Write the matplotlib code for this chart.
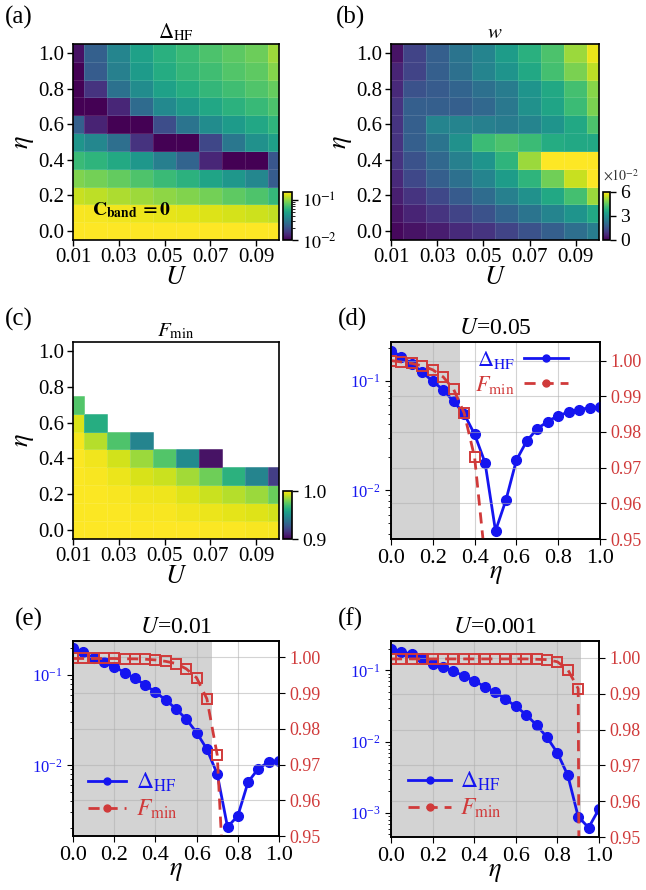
import numpy as np
import matplotlib
matplotlib.use("Agg")
import matplotlib.pyplot as plt
from matplotlib.colors import LogNorm, Normalize
from matplotlib.lines import Line2D
from matplotlib.ticker import FixedLocator

plt.rcParams["font.family"] = ["Liberation Serif", "DejaVu Serif"]
plt.rcParams["mathtext.fontset"] = "stix"

W, H = 646, 890
BLUE = "#1515f0"
RED = "#d03a3a"

# ---- heatmap grid ----
U_grid = [0.01, 0.02, 0.03, 0.04, 0.05, 0.06, 0.07, 0.08, 0.09, 0.10]
eta_grid = [0.0, 0.1, 0.2, 0.3, 0.4, 0.5, 0.6, 0.7, 0.8, 0.9, 1.0]

# Delta_HF, rows eta = 0.0 ... 1.0
delta_map = [
    [0.1995, 0.195, 0.193, 0.191, 0.189, 0.186, 0.182, 0.178, 0.173, 0.168],
    [0.154, 0.152, 0.149, 0.146, 0.143, 0.140, 0.136, 0.132, 0.128, 0.122],
    [0.125, 0.120, 0.112, 0.105, 0.0986, 0.094, 0.088, 0.080, 0.073, 0.063],
    [0.0926, 0.088, 0.081, 0.073, 0.0648, 0.058, 0.050, 0.043, 0.036, 0.022],
    [0.0648, 0.060, 0.053, 0.043, 0.0325, 0.024, 0.0135, 0.006, 0.007, 0.021],
    [0.0423, 0.036, 0.027, 0.015, 0.0043, 0.006, 0.018, 0.030, 0.040, 0.047],
    [0.0231, 0.013, 0.006, 0.007, 0.0189, 0.029, 0.038, 0.045, 0.052, 0.060],
    [0.0080, 0.007, 0.0135, 0.026, 0.0366, 0.044, 0.052, 0.058, 0.064, 0.072],
    [0.0027, 0.015, 0.028, 0.038, 0.0482, 0.055, 0.062, 0.068, 0.074, 0.082],
    [0.0092, 0.022, 0.033, 0.045, 0.0547, 0.062, 0.068, 0.075, 0.080, 0.095],
    [0.0113, 0.023, 0.035, 0.048, 0.0574, 0.065, 0.072, 0.079, 0.085, 0.105],
]

# w in units of 1e-2, rows eta = 0.0 ... 1.0
w_map = [
    [0.12, 0.3, 0.48, 0.72, 0.9, 1.2, 1.5, 1.8, 2.16, 2.52],
    [0.3, 0.6, 0.9, 1.2, 1.5, 1.9, 2.3, 2.7, 3.1, 3.6],
    [0.5, 0.9, 1.3, 1.7, 2.1, 2.6, 3.0, 3.6, 4.2, 5.1],
    [0.7, 1.3, 1.8, 2.2, 2.7, 3.3, 3.9, 4.7, 5.5, 6.0],
    [0.9, 1.5, 2.0, 2.6, 3.1, 3.9, 5.1, 6.1, 6.1, 6.0],
    [0.9, 1.8, 2.3, 3.0, 4.1, 4.3, 4.1, 3.7, 3.6, 3.6],
    [0.9, 1.8, 2.7, 2.7, 2.6, 2.5, 2.7, 3.1, 3.6, 4.3],
    [0.9, 1.8, 1.8, 1.8, 2.0, 2.4, 3.0, 3.5, 4.1, 4.8],
    [0.7, 1.5, 1.7, 1.9, 2.2, 2.5, 3.1, 3.6, 4.2, 4.9],
    [0.6, 1.2, 1.8, 2.2, 2.7, 3.1, 3.6, 4.2, 4.8, 5.4],
    [0.3, 1.2, 1.8, 2.3, 2.7, 3.3, 3.8, 4.3, 5.1, 5.8],
]

nan = np.nan
# F_min, rows eta = 0.0 ... 1.0 (nan = not defined)
fmin_map = [
    [0.9997, 0.9998, 0.9998, 0.9998, 1.0000, 0.9997, 0.9995, 0.9993, 0.9990, 0.9988],
    [0.9996, 0.9995, 0.9995, 0.9990, 0.9992, 0.9980, 0.9970, 0.9960, 0.9950, 0.9930],
    [0.9996, 0.9993, 0.9990, 0.9980, 0.9974, 0.9950, 0.9920, 0.9890, 0.9850, 0.9770],
    [0.9995, 0.9990, 0.9970, 0.9940, 0.9919, 0.9860, 0.9780, 0.9640, 0.9450, 0.9180],
    [0.9993, 0.9980, 0.9930, 0.9850, 0.9729, 0.9480, 0.9050, nan, nan, nan],
    [0.9983, 0.9890, 0.9720, 0.9450, nan, nan, nan, nan, nan, nan],
    [0.9943, 0.9620, nan, nan, nan, nan, nan, nan, nan, nan],
    [0.9727, nan, nan, nan, nan, nan, nan, nan, nan, nan],
    [nan, nan, nan, nan, nan, nan, nan, nan, nan, nan],
    [nan, nan, nan, nan, nan, nan, nan, nan, nan, nan],
    [nan, nan, nan, nan, nan, nan, nan, nan, nan, nan],
]

# ---- line cuts ----
eta_line = [0.0, 0.05, 0.1, 0.15, 0.2, 0.25, 0.3, 0.35, 0.4, 0.45, 0.5,
            0.55, 0.6, 0.65, 0.7, 0.75, 0.8, 0.85, 0.9, 0.95, 1.0]

delta_u005 = [0.189, 0.166, 0.143, 0.120, 0.0986, 0.0827, 0.0648, 0.0499, 0.0325, 0.0179,
              0.00427, 0.00816, 0.0189, 0.0283, 0.0366, 0.0425, 0.0482, 0.0517, 0.0547,
              0.0567, 0.0574]
fmin_u005 = [1.0000, 0.9996, 0.9992, 0.9985, 0.9974, 0.9954, 0.9919, 0.9853, 0.9729, 0.9443]

delta_u001 = [0.1995, 0.180, 0.154, 0.139, 0.125, 0.107, 0.0926, 0.0781, 0.0648, 0.0532,
              0.0423, 0.0325, 0.0231, 0.0151, 0.00801, 0.00207, 0.00274, 0.00653, 0.00919,
              0.0109, 0.0113]
fmin_u001 = [0.9997, 0.9997, 0.9997, 0.9997, 0.9997, 0.9996, 0.9996, 0.9995, 0.9993, 0.9989,
             0.9983, 0.9968, 0.9943, 0.9884, 0.9727, 0.917]

delta_u0001 = [0.199, 0.183, 0.167, 0.149, 0.124, 0.110, 0.0968, 0.0842, 0.0716, 0.0590,
               0.0497, 0.0396, 0.0313, 0.0239, 0.0170, 0.0115, 0.00694, 0.00337, 0.000888,
               0.000622, 0.00114]
fmin_u0001 = [0.9997, 0.9997, 0.9997, 0.9997, 0.9997, 0.9997, 0.9997, 0.9997, 0.9997, 0.9997,
              0.9997, 0.9997, 0.9997, 0.9997, 0.9996, 0.9995, 0.9989, 0.9967, 0.9914, 0.30]

# extent of the C_band = 0 region (grey) for each cut
shade_u005 = 0.328
shade_u001 = 0.675
shade_u0001 = 0.915


def px_axes(fig, left, top, right, bottom):
    return fig.add_axes([left / W, 1 - bottom / H, (right - left) / W, (bottom - top) / H])


def heatmap(fig, ax, cax, data, norm, title):
    z = np.ma.masked_invalid(np.array(data, dtype=float))
    m = ax.pcolormesh(U_grid, eta_grid, z, cmap="viridis", norm=norm, shading="nearest",
                      edgecolors=(1, 1, 1, 0.12), linewidth=0.4)
    ax.set_xlim(0.01, 0.1)
    ax.set_ylim(-0.05, 1.05)
    ax.set_xticks([0.01, 0.03, 0.05, 0.07, 0.09])
    ax.set_xticklabels(["0.01", "0.03", "0.05", "0.07", "0.09"])
    ax.set_yticks([0.0, 0.2, 0.4, 0.6, 0.8, 1.0])
    ax.set_yticklabels(["0.0", "0.2", "0.4", "0.6", "0.8", "1.0"])
    ax.tick_params(labelsize=15, length=4, width=1, pad=2)
    ax.set_xlabel("$U$", fontsize=19, labelpad=0)
    ax.set_ylabel(r"$\eta$", fontsize=19, labelpad=2)
    ax.set_title(title, fontsize=15, pad=4)
    for s in ax.spines.values():
        s.set_linewidth(1.2)
    cb = fig.colorbar(m, cax=cax)
    cb.outline.set_linewidth(1.2)
    cax.tick_params(labelsize=14, length=4, width=1)
    return cb


def cut(ax1, delta, fmin, shade, title, ylim_left, ylim_right):
    ax1.axvspan(0, shade, color="#d3d3d3", lw=0, zorder=0)
    ax1.plot(eta_line[:len(delta)], delta, "-o", color=BLUE, lw=2, ms=7, zorder=3)
    ax1.set_yscale("log")
    ax1.set_ylim(*ylim_left)
    ax1.set_xlim(0, 1)
    ax1.set_xticks([0.0, 0.2, 0.4, 0.6, 0.8, 1.0])
    ax1.set_xticklabels(["0.0", "0.2", "0.4", "0.6", "0.8", "1.0"])
    ax1.grid(True, axis="x", color="#b0b0b0", alpha=0.55, lw=0.8)
    ax1.tick_params(axis="x", labelsize=16, length=4)
    ax1.tick_params(axis="y", which="major", labelsize=12, labelcolor=BLUE, length=4)
    ax1.tick_params(axis="y", which="minor", length=2.5)
    ax1.set_xlabel(r"$\eta$", fontsize=19, labelpad=-3)
    ax1.set_title(title, fontsize=17, pad=6)

    ax2 = ax1.twinx()
    ax2.plot(eta_line[:len(fmin)], fmin, "--s", color=RED, lw=2, ms=6.5, mfc="none",
             mew=1.4, dashes=(4, 2.5))
    ax2.set_ylim(*ylim_right)
    ax2.set_yticks([0.95, 0.96, 0.97, 0.98, 0.99, 1.00])
    ax2.set_yticklabels(["0.95", "0.96", "0.97", "0.98", "0.99", "1.00"])
    ax2.tick_params(axis="y", labelsize=13, labelcolor=RED, length=4)
    ax2.grid(True, axis="y", color="#b0b0b0", alpha=0.55, lw=0.8)
    for a in (ax1, ax2):
        for s in a.spines.values():
            s.set_linewidth(1.2)
    return ax2


def cut_legend(ax, markerfirst, fontsize, handlelength, **kw):
    handles = [
        Line2D([], [], color=BLUE, lw=2, marker="o", ms=5),
        Line2D([], [], color=RED, lw=2, ls="--", marker="o", ms=5, dashes=(4, 2.5)),
    ]
    leg = ax.legend(handles, [r"$\Delta_{\rm HF}$", r"$F_{\rm min}$"], frameon=False,
                    markerfirst=markerfirst, fontsize=fontsize, handlelength=handlelength,
                    handletextpad=0.4, labelspacing=0.15, borderpad=0.1,
                    borderaxespad=0.2, **kw)
    leg.get_texts()[0].set_color(BLUE)
    leg.get_texts()[1].set_color(RED)


fig = plt.figure(figsize=(W / 100, H / 100), dpi=100)

# (a)
ax_a = px_axes(fig, 73, 44, 279, 240)
cax_a = px_axes(fig, 283, 192, 292, 240)
cb_a = heatmap(fig, ax_a, cax_a, delta_map, LogNorm(vmin=0.01, vmax=0.158), r"$\Delta_{\rm HF}$")
cax_a.yaxis.set_major_locator(FixedLocator([0.01, 0.1]))
cax_a.set_yticklabels([r"$10^{-2}$", r"$10^{-1}$"])
cax_a.tick_params(labelsize=13)
ax_a.text(0.0183, 0.115, r"$\mathbf{C}_{\mathbf{band}}\,\mathbf{=0}$", fontsize=14,
          ha="left", va="center")

# (b)
ax_b = px_axes(fig, 391, 44, 599, 240)
cax_b = px_axes(fig, 603, 192, 610, 240)
w_vals = np.array(w_map) * 1e-2
cb_b = heatmap(fig, ax_b, cax_b, w_vals, Normalize(vmin=0, vmax=0.06), "$w$")
cb_b.set_ticks([0, 0.03, 0.06])
cb_b.set_ticklabels(["0", "3", "6"])
fig.text(603 / W, 1 - 181 / H, r"$\times10^{-2}$", fontsize=10, ha="left", va="baseline",
         color="#333333")

# (c)
ax_c = px_axes(fig, 73, 342, 279, 539)
cax_c = px_axes(fig, 283, 491, 292, 539)
cb_c = heatmap(fig, ax_c, cax_c, fmin_map, Normalize(vmin=0.9, vmax=1.0), r"$F_{\rm min}$")
cb_c.set_ticks([0.9, 1.0])
cb_c.set_ticklabels(["0.9", "1.0"])

# (d)
ax_d = px_axes(fig, 391, 342, 600, 539)
ax_d2 = cut(ax_d, delta_u005, fmin_u005, shade_u005, "$U$=0.05", (0.0036, 0.226), (0.95, 1.0052))
cut_legend(ax_d2, False, 16, 2.0, loc="upper right", bbox_to_anchor=(0.88, 1.0))

# (e)
ax_e = px_axes(fig, 73, 641, 279, 836)
ax_e2 = cut(ax_e, delta_u001, fmin_u001, shade_u001, "$U$=0.01", (0.00164, 0.24), (0.95, 1.0046))
cut_legend(ax_e2, True, 17, 1.6, loc="lower left", bbox_to_anchor=(0.04, 0.04))

# (f)
ax_f = px_axes(fig, 391, 641, 599, 837)
ax_f2 = cut(ax_f, delta_u0001, fmin_u0001, shade_u0001, "$U$=0.001", (0.00046, 0.258), (0.95, 1.0047))
cut_legend(ax_f2, True, 17, 1.8, loc="lower left", bbox_to_anchor=(0.05, 0.05))

# panel labels
for lab, x, y in [("(a)", 5, 6), ("(b)", 336, 6), ("(c)", 5, 308),
                  ("(d)", 338, 308), ("(e)", 15, 608), ("(f)", 338, 608)]:
    fig.text(x / W, 1 - y / H, lab, fontsize=18, ha="left", va="top")

fig.savefig("out.png", dpi=100)
